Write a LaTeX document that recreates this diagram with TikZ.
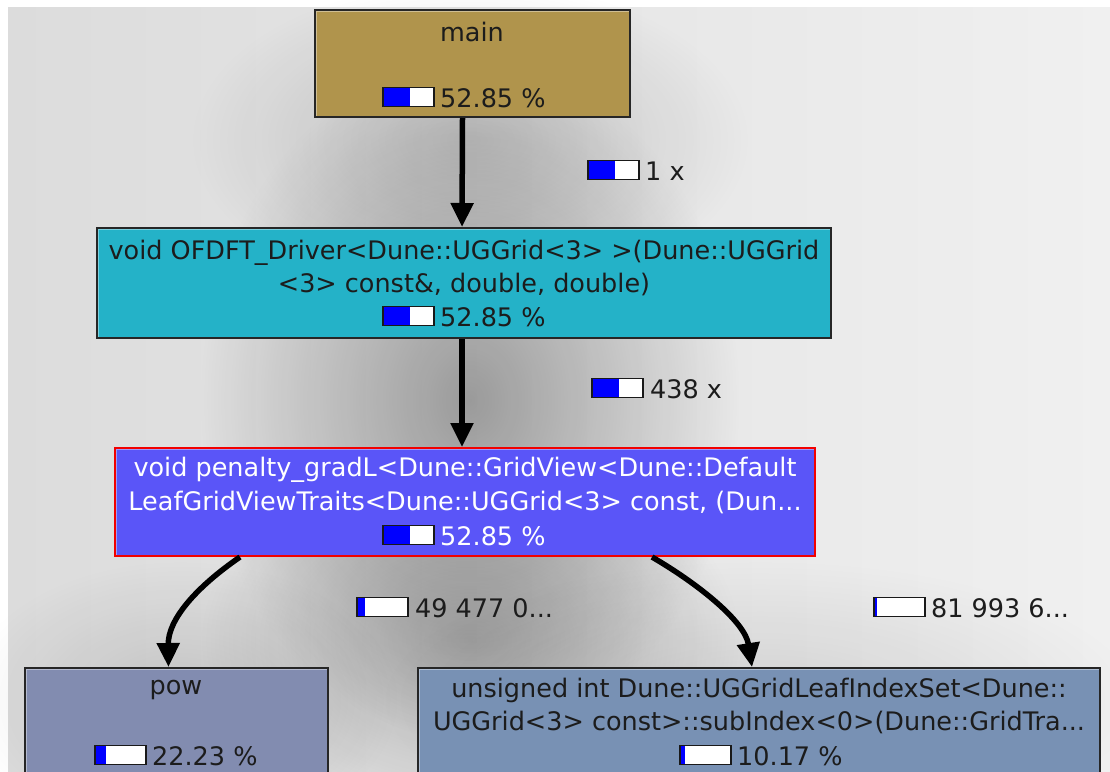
\documentclass[tikz,border=0pt]{standalone}
\usepackage{fontspec}
\setmainfont{DejaVu Sans}
\usetikzlibrary{arrows.meta,fadings,calc}

\tikzfading[name=softspot, inner color=transparent!0, outer color=transparent!100]

\definecolor{bgleft}{HTML}{DCDCDC}
\definecolor{bgright}{HTML}{F0F0F0}
\definecolor{cmain}{HTML}{B0944C}
\definecolor{cdriver}{HTML}{24B2C8}
\definecolor{cpenalty}{HTML}{5A55F8}
\definecolor{cpow}{HTML}{828CB0}
\definecolor{cindex}{HTML}{7891B4}
\definecolor{ink}{HTML}{1C1C1C}
\definecolor{gaugeblue}{HTML}{0000FF}

% percentage gauge: left x, centre y, filled fraction
\newcommand\bargauge[3]{%
  \fill[white] (#1,#2-9.5) rectangle (#1+51,#2+9.5);
  \fill[gaugeblue] (#1,#2-9.5) rectangle (#1+51*#3,#2+9.5);
  \draw[line width=1.8pt, black!90] (#1,#2-9.5) rectangle (#1+51,#2+9.5);
}

\tikzset{
  txt/.style={font=\fontsize{25.5}{31}\selectfont, inner sep=0pt, text=ink},
  fnbox/.style={draw=black!85, line width=2pt, inner sep=0pt},
  bevel/.style={line width=1.6pt, white, opacity=0.4},
  call/.style={line width=5.5pt, -{Triangle[width=22pt,length=24pt]}},
}

\begin{document}
\begin{tikzpicture}[x=1pt,y=-1pt]
\useasboundingbox (0,0) rectangle (1110,771);
\fill[white] (0,0) rectangle (1110,771);
\shade[left color=bgleft, right color=bgright] (8,7) rectangle (1110,771);

% soft shadows behind the call chain
\fill[black, opacity=0.32, path fading=softspot] (470,400) ellipse [x radius=270, y radius=340];
\fill[black, opacity=0.24, path fading=softspot] (470,640) ellipse [x radius=270, y radius=190];
\fill[black, opacity=0.16, path fading=softspot] (470,140) ellipse [x radius=280, y radius=160];
\fill[black, opacity=0.12, path fading=softspot] (180,700) ellipse [x radius=220, y radius=140];
\fill[black, opacity=0.10, path fading=softspot] (760,700) ellipse [x radius=380, y radius=140];

% function boxes
\node[fnbox, fill=cmain, minimum width=315pt, minimum height=107pt] (main) at (472.5,63.5) {};
\node[fnbox, fill=cdriver, minimum width=734pt, minimum height=110pt] (driver) at (464,283) {};
\node[fnbox, draw=red!95!black, fill=cpenalty, minimum width=700pt, minimum height=108pt] (penalty) at (465,502) {};
\node[fnbox, fill=cpow, minimum width=303pt, minimum height=124pt] (pow) at (176.5,730) {};
\node[fnbox, fill=cindex, minimum width=682pt, minimum height=124pt] (index) at (759,730) {};

% light upper-left bevel on each box
\foreach \b in {main,driver,penalty,pow,index}{
  \draw[bevel] ([shift={(2.5,-2.5)}]\b.south west) -- ([shift={(2.5,2.5)}]\b.north west) -- ([shift={(-2.5,2.5)}]\b.north east);
}

% box texts
\node[txt] (main-name) at (472,32) {main};
\bargauge{383}{97}{0.5285}
\node[txt, anchor=west] (main-pct) at (440,98) {52.85 \%};

\node[txt] (driver-l1) at (464,253) {void OFDFT\_Driver<Dune::UGGrid<3> >(Dune::UGGrid};
\node[txt] (driver-l2) at (464,284) {<3> const\&, double, double)};
\bargauge{383}{316}{0.5285}
\node[txt, anchor=west] (driver-pct) at (440,317) {52.85 \%};

\node[txt, text=white] (penalty-l1) at (465,470) {void penalty\_gradL<Dune::GridView<Dune::Default};
\node[txt, text=white] (penalty-l2) at (465,502) {LeafGridViewTraits<Dune::UGGrid<3> const, (Dun...};
\bargauge{383}{535}{0.5285}
\node[txt, anchor=west, text=white] (penalty-pct) at (440,536) {52.85 \%};

\node[txt] (pow-name) at (176,690) {pow};
\bargauge{95}{755}{0.2223}
\node[txt, anchor=west] (pow-pct) at (152,756) {22.23 \%};

\node[txt] (index-l1) at (759,690) {unsigned int Dune::UGGridLeafIndexSet<Dune::};
\node[txt] (index-l2) at (759,722) {UGGrid<3> const>::subIndex<0>(Dune::GridTra...};
\bargauge{680}{755}{0.1017}
\node[txt, anchor=west] (index-pct) at (737,756) {10.17 \%};

% calls
\draw[call] ([xshift=-10pt]main.south) -- ([xshift=-2pt]driver.north);
\draw[call] ([xshift=-2pt]driver.south) -- ([xshift=-3pt]penalty.north);
\draw[call] ([xshift=-225pt]penalty.south) .. controls (195,588) and (168,620) .. ([xshift=-8pt]pow.north);
\draw[call] ([xshift=187pt]penalty.south) .. controls (700,585) and (745,622) .. ([xshift=-7pt]index.north);

% call counts
\bargauge{588}{170}{0.5285}
\node[txt, anchor=west] (c1) at (645,171) {1 x};
\bargauge{592}{388}{0.5285}
\node[txt, anchor=west] (c2) at (650,389) {438 x};
\bargauge{357}{607}{0.16}
\node[txt, anchor=west] (c3) at (415,608) {49 477 0...};
\bargauge{874}{607}{0.05}
\node[txt, anchor=west] (c4) at (931,608) {81 993 6...};
\end{tikzpicture}
\end{document}
